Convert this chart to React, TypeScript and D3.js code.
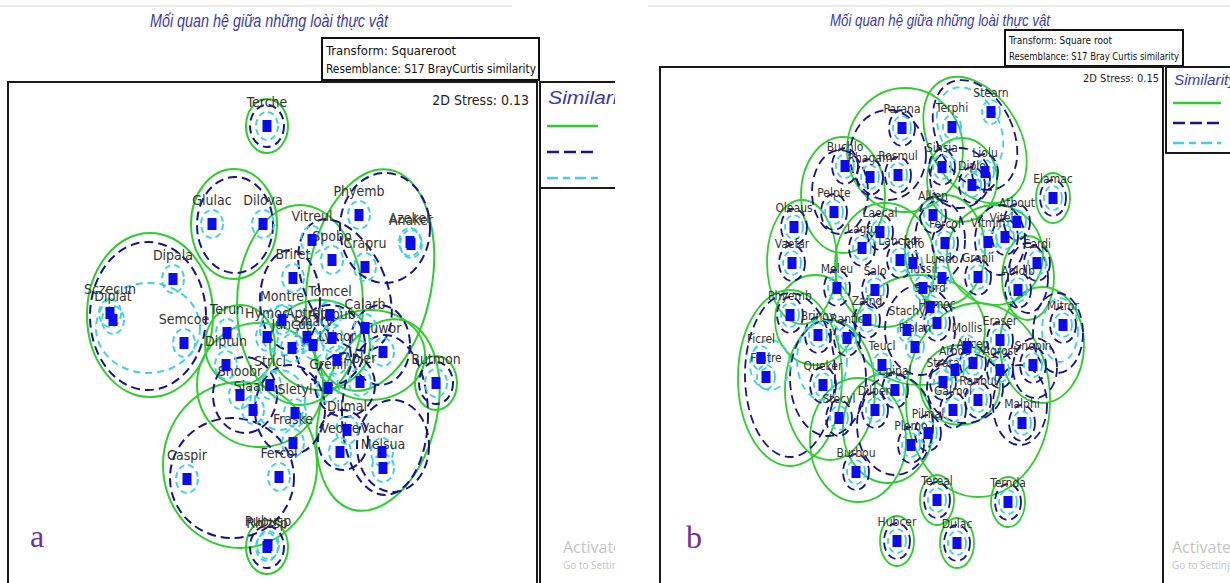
import React from "react";
import * as d3 from "d3";

const W = 1230;
const H = 583;

const TITLE = "Mối quan hệ giữa những loài thực vật";

const GREEN = "#30cd30";
const NAVY = "#15158c";
const CYAN = "#3fd2de";
const SQUARE = "#0b0bef";
const LABEL = "#333333";
const TITLE_C = "#3a3aae";
const NARROW = "'Liberation Sans Narrow','Arial Narrow','DejaVu Sans Condensed','Roboto Condensed',sans-serif";

type Pt = [string, number, number];
// [cx, cy, rx, ry, rotation in degrees] in ordination units
type El = [number, number, number, number, number?];

// ---------- panel a: nMDS coordinates (stress 0.13) ----------
const speciesA: Pt[] = [
  ["Terche", -0.06, 2.06],
  ["Glulac", -0.61, 1.08],
  ["Dilova", -0.10, 1.08],
  ["Dipala", -1.00, 0.53],
  ["Sczecun", -1.63, 0.19],
  ["Diplat", -1.60, 0.12],
  ["Semcoe", -0.89, -0.11],
  ["Vitreul", 0.39, 0.92],
  ["Phyemb", 0.86, 1.17],
  ["Azeker", 1.37, 0.90],
  ["Anaker", 1.38, 0.88],
  ["Briret", 0.20, 0.54],
  ["Spobo", 0.59, 0.72],
  ["Crapru", 0.92, 0.65],
  ["Tomcel", 0.57, 0.17],
  ["Calarb", 0.92, 0.04],
  ["Montre", 0.09, 0.12],
  ["Hymoc", -0.06, -0.05],
  ["Terun", -0.46, -0.01],
  ["Diptun", -0.47, -0.33],
  ["Allopub", 0.59, -0.06],
  ["Aptrep", 0.34, -0.05],
  ["Sinarv", 0.40, -0.13],
  ["Juncus", 0.19, -0.16],
  ["Lyinor", 0.64, -0.28],
  ["Tuwor", 1.10, -0.20],
  ["Apler", 0.87, -0.50],
  ["Grenii", 0.55, -0.56],
  ["Stricl", -0.03, -0.53],
  ["Shoobr", -0.33, -0.63],
  ["Siaalb", -0.20, -0.78],
  ["Sletyl", 0.22, -0.81],
  ["Fraske", 0.20, -1.11],
  ["Fercol", 0.06, -1.45],
  ["Dilmal", 0.74, -0.98],
  ["Veolre", 0.67, -1.20],
  ["Vachar", 1.09, -1.20],
  ["Melsua", 1.10, -1.36],
  ["Butmon", 1.63, -0.51],
  ["Caspir", -0.86, -1.47],
  ["Rhizsp", -0.06, -2.15],
  ["Rubusp", -0.05, -2.13],
];

const greenA: El[] = [
  [-0.39, 1.08, 0.43, 0.55],
  [-1.23, 0.17, 0.63, 0.82],
  [0.97, 0.52, 0.62, 1.12, 10],
  [0.27, 0.27, 0.63, 1.0],
  [-0.13, -0.53, 0.63, 0.62],
  [-0.33, -1.33, 0.77, 0.83],
  [1.05, -0.83, 0.58, 0.98, 15],
  [0.97, -0.23, 0.55, 0.45],
  [0.47, -0.13, 0.5, 0.45],
  [-0.33, -0.13, 0.35, 0.4],
];

const navyA: El[] = [
  [-0.38, 1.07, 0.38, 0.48],
  [-1.25, 0.16, 0.58, 0.74],
  [1.12, 1.04, 0.45, 0.55],
  [0.72, 0.47, 0.4, 0.7, -25],
  [0.17, 0.32, 0.3, 0.5],
  [0.57, -0.13, 0.35, 0.4],
  [1.07, -0.13, 0.3, 0.4],
  [-0.28, -0.63, 0.32, 0.38],
  [0.17, -0.78, 0.35, 0.45],
  [-0.41, -1.46, 0.62, 0.6],
  [1.2, -1.14, 0.36, 0.46],
  [0.7, -1.08, 0.25, 0.3],
  [1.12, -0.83, 0.43, 0.8],
  [0.72, -0.53, 0.3, 0.32],
];

const cyanA: El[] = [
  [-1.25, 0.04, 0.52, 0.45],
  [0.07, -0.68, 0.25, 0.3],
  [0.12, 0.02, 0.25, 0.25],
];

const soloNavyA = ["Terche", "Butmon", "Rhizsp"];
const soloGreenA = ["Terche", "Butmon", "Rhizsp"];

// ---------- panel b: nMDS coordinates (stress 0.15) ----------
const speciesB: Pt[] = [
  ["Parana", -0.09, 1.97],
  ["Stearn", 0.80, 2.13],
  ["Terphi", 0.41, 1.98],
  ["Buchlo", -0.66, 1.59],
  ["Rhagam", -0.41, 1.48],
  ["Rosmul", -0.13, 1.50],
  ["Sinsia", 0.31, 1.58],
  ["Liolu", 0.74, 1.53],
  ["Diplo", 0.61, 1.40],
  ["Pelpte", -0.77, 1.13],
  ["Oleaus", -1.17, 0.98],
  ["Elamac", 1.42, 1.27],
  ["Allien", 0.22, 1.10],
  ["Atbout", 1.06, 1.03],
  ["Vitelu", 0.94, 0.88],
  ["Vitmin", 0.77, 0.83],
  ["Fercol", 0.34, 0.82],
  ["Laecal", -0.31, 0.93],
  ["Lagfu", -0.49, 0.77],
  ["Lanchor", -0.11, 0.65],
  ["Trifo", 0.02, 0.62],
  ["Vaefar", -1.19, 0.62],
  ["Cardi", 1.26, 0.62],
  ["Grenii", 0.67, 0.48],
  ["Lundo", 0.31, 0.47],
  ["Ablolb", 1.07, 0.35],
  ["Meleu", -0.74, 0.37],
  ["Salo", -0.36, 0.35],
  ["Tussil", 0.12, 0.37],
  ["Shurd", 0.19, 0.18],
  ["Phyemb", -1.21, 0.10],
  ["Brinov", -0.93, -0.10],
  ["Ranfic", -0.64, -0.13],
  ["Zaind", -0.44, 0.05],
  ["Hymoc", 0.26, 0.02],
  ["Mitror", 1.52, 0.0],
  ["Mollis", 0.56, -0.22],
  ["Eraser", 0.89, -0.15],
  ["Snopin", 1.22, -0.40],
  ["Teucl", -0.29, -0.40],
  ["Stachy", -0.04, -0.05],
  ["Plalan", 0.04, -0.22],
  ["Arbdo", 0.44, -0.45],
  ["Strara", 0.32, -0.57],
  ["Allcep", 0.62, -0.38],
  ["Agrost", 0.89, -0.45],
  ["Ficrel", -1.50, -0.33],
  ["Fratre", -1.45, -0.52],
  ["Queker", -0.88, -0.60],
  ["Dilpen", -0.36, -0.85],
  ["Epipal", -0.16, -0.65],
  ["Stecyl", -0.72, -0.93],
  ["Pilmal", 0.17, -1.08],
  ["Plemo", 0.0, -1.20],
  ["Malphi", 1.11, -0.98],
  ["Galmol", 0.42, -0.85],
  ["Ranbul", 0.67, -0.75],
  ["Burbou", -0.55, -1.47],
  ["Tereal", 0.26, -1.75],
  ["Ternda", 0.97, -1.77],
  ["Hubcer", -0.14, -2.16],
  ["Dulac", 0.46, -2.18],
];

const greenB: El[] = [
  [-0.06, 1.75, 0.58, 0.62],
  [0.64, 1.85, 0.45, 0.68, -30],
  [-0.68, 1.3, 0.42, 0.58],
  [-1.09, 0.63, 0.35, 0.62],
  [-1.21, -0.53, 0.52, 0.88],
  [-0.81, -0.65, 0.45, 0.7],
  [-0.53, -1.15, 0.48, 0.62],
  [-0.23, -1.03, 0.45, 0.55],
  [1.31, -0.2, 0.42, 0.58],
  [0.67, -0.75, 0.72, 0.97],
  [0.84, 0.7, 0.48, 0.5],
  [1.17, 0.47, 0.26, 0.42],
  [-0.26, 0.6, 0.5, 0.62],
  [0.51, 1.45, 0.35, 0.42],
  [0.09, -0.05, 0.65, 0.55],
  [0.34, 0.75, 0.4, 0.55],
  [0.49, -0.6, 0.4, 0.4],
  [-0.96, 0.05, 0.4, 0.45],
];

const navyB: El[] = [
  [0.64, 1.9, 0.38, 0.58, -25],
  [-0.23, 1.7, 0.38, 0.45],
  [-0.71, 1.33, 0.28, 0.42],
  [-1.21, -0.5, 0.45, 0.82],
  [-0.83, -0.53, 0.38, 0.58],
  [1.47, -0.08, 0.25, 0.4],
  [1.24, -0.43, 0.22, 0.3],
  [1.09, -0.8, 0.27, 0.4],
  [-0.16, -1.0, 0.38, 0.5],
  [0.54, -0.63, 0.38, 0.35],
  [0.89, 0.85, 0.25, 0.35],
  [1.17, 0.47, 0.2, 0.35],
  [0.29, 0.85, 0.25, 0.4],
  [0.09, -0.05, 0.35, 0.45],
  [0.49, 1.47, 0.3, 0.3],
];

const cyanB: El[] = [
  [0.59, 1.95, 0.3, 0.45, -25],
  [-1.41, -0.4, 0.2, 0.25],
  [1.49, -0.05, 0.18, 0.32],
  [-0.89, -0.35, 0.25, 0.4],
];

const soloNavyB = [
  "Parana", "Buchlo", "Rhagam", "Rosmul", "Pelpte", "Oleaus", "Vaefar", "Elamac", "Laecal",
  "Lagfu", "Lanchor", "Meleu", "Salo", "Phyemb", "Brinov", "Ranfic", "Zaind", "Queker",
  "Stecyl", "Dilpen", "Epipal", "Pilmal", "Plemo", "Burbou", "Tereal", "Ternda", "Hubcer",
  "Dulac", "Sinsia", "Liolu", "Diplo", "Allien", "Atbout", "Vitelu", "Fercol", "Cardi",
  "Grenii", "Ablolb", "Hymoc", "Mitror", "Snopin", "Malphi", "Galmol", "Ranbul", "Eraser",
  "Agrost", "Strara", "Allcep",
];
const soloGreenB = ["Elamac", "Tereal", "Ternda", "Hubcer", "Dulac"];

type PanelSpec = {
  clip: [number, number];
  xDomain: [number, number];
  yDomain: [number, number];
  frame: { x0: number; x1: number; y0: number; y1: number };
  species: Pt[];
  green: El[];
  navy: El[];
  cyan: El[];
  soloNavy: string[];
  soloGreen: string[];
  ring: { c: [number, number]; b: [number, number]; g: [number, number] };
  labelSize: number;
  labelDy: number;
  sw: number;
};

const panelA: PanelSpec = {
  clip: [0, 615],
  xDomain: [-2.65, 2.64],
  yDomain: [2.5, -2.51],
  frame: { x0: 8, x1: 537, y0: 82, y1: 583 },
  species: speciesA,
  green: greenA,
  navy: navyA,
  cyan: cyanA,
  soloNavy: soloNavyA,
  soloGreen: soloGreenA,
  ring: { c: [11, 14], b: [17, 21], g: [21, 27] },
  labelSize: 14,
  labelDy: -19,
  sw: 2,
};

const panelB: PanelSpec = {
  clip: [640, 1230],
  xDomain: [-2.51, 2.52],
  yDomain: [2.58, -2.58],
  frame: { x0: 660, x1: 1163, y0: 67, y1: 583 },
  species: speciesB,
  green: greenB,
  navy: navyB,
  cyan: cyanB,
  soloNavy: soloNavyB,
  soloGreen: soloGreenB,
  ring: { c: [9, 12], b: [13, 18], g: [17, 25] },
  labelSize: 12,
  labelDy: -15,
  sw: 1.8,
};

function Ordination({ p, id }: { p: PanelSpec; id: string }) {
  const x = d3.scaleLinear().domain(p.xDomain).range([p.frame.x0, p.frame.x1]);
  const y = d3.scaleLinear().domain(p.yDomain).range([p.frame.y0, p.frame.y1]);
  const kx = Math.abs(x(1) - x(0));
  const ky = Math.abs(y(1) - y(0));
  const byName = new Map(p.species.map((s) => [s[0], s] as [string, Pt]));

  const ell = (e: El, color: string, dash: string | undefined, key: string) => {
    const cx = x(e[0]);
    const cy = y(e[1]);
    return (
      <ellipse
        key={key}
        cx={cx}
        cy={cy}
        rx={e[2] * kx}
        ry={e[3] * ky}
        transform={e[4] ? `rotate(${e[4]},${cx},${cy})` : undefined}
        fill="none"
        stroke={color}
        strokeWidth={p.sw}
        strokeDasharray={dash}
      />
    );
  };
  const ring = (name: string, r: [number, number], color: string, dash: string | undefined, key: string) => {
    const s = byName.get(name);
    if (!s) return null;
    return (
      <ellipse key={key} cx={x(s[1])} cy={y(s[2])} rx={r[0]} ry={r[1]} fill="none" stroke={color} strokeWidth={p.sw} strokeDasharray={dash} />
    );
  };

  return (
    <g clipPath={`url(#${id})`}>
      <rect x={p.frame.x0} y={p.frame.y0} width={p.frame.x1 - p.frame.x0} height={H - p.frame.y0 + 20} fill="none" stroke="#1a1a1a" strokeWidth={2} />
      <g>
        {p.green.map((e, i) => ell(e, GREEN, undefined, `g${i}`))}
        {p.soloGreen.map((n, i) => ring(n, p.ring.g, GREEN, undefined, `sg${i}`))}
        {p.navy.map((e, i) => ell(e, NAVY, "9,5", `b${i}`))}
        {p.soloNavy.map((n, i) => ring(n, p.ring.b, NAVY, "8,5", `sb${i}`))}
        {p.cyan.map((e, i) => ell(e, CYAN, "7,5", `c${i}`))}
        {p.species.map((s, i) => ring(s[0], p.ring.c, CYAN, "6,4", `sc${i}`))}
      </g>
      <g fontFamily={NARROW} fontSize={p.labelSize} fill={LABEL} textAnchor="middle">
        {p.species.map((s) => (
          <text key={s[0]} x={x(s[1])} y={y(s[2]) + p.labelDy}>
            {s[0]}
          </text>
        ))}
      </g>
      <g fill={SQUARE}>
        {p.species.map((s) => (
          <rect key={s[0]} x={x(s[1]) - 4.5} y={y(s[2]) - 6} width={9} height={12} />
        ))}
      </g>
    </g>
  );
}

function Legend({ x0, y0, w, h, titleSize, titleLen, rows, lineX, lineW }: { x0: number; y0: number; w: number; h: number; titleSize: number; titleLen: number; rows: number[]; lineX: number; lineW: number }) {
  return (
    <g>
      <rect x={x0} y={y0} width={w} height={h} fill="#fff" stroke="#1a1a1a" strokeWidth={2} />
      <text x={lineX + 1} y={y0 + titleSize + 3} fontFamily="'Liberation Sans',Arial,sans-serif" fontStyle="italic" fontSize={titleSize} fill={TITLE_C} textLength={titleLen} lengthAdjust="spacingAndGlyphs">
        Similarity
      </text>
      <line x1={lineX} x2={lineX + lineW} y1={rows[0]} y2={rows[0]} stroke={GREEN} strokeWidth={2.5} />
      <line x1={lineX} x2={lineX + lineW} y1={rows[1]} y2={rows[1]} stroke={NAVY} strokeWidth={2.5} strokeDasharray="12,5" />
      <line x1={lineX} x2={lineX + lineW} y1={rows[2]} y2={rows[2]} stroke={CYAN} strokeWidth={2.5} strokeDasharray="11,5,7,5" />
    </g>
  );
}

export default function App() {
  return (
    <svg width={W} height={H} viewBox={`0 0 ${W} ${H}`} style={{ position: "absolute", left: 0, top: 0, background: "#fff" }}>
      <defs>
        <clipPath id="clipA">
          <rect x={panelA.clip[0]} y={0} width={panelA.clip[1] - panelA.clip[0]} height={H} />
        </clipPath>
        <clipPath id="clipB">
          <rect x={panelB.clip[0]} y={0} width={panelB.clip[1] - panelB.clip[0]} height={H} />
        </clipPath>
      </defs>
      <rect width={W} height={H} fill="#fff" />

      {/* panel a */}
      <g clipPath="url(#clipA)">
        <line x1={0} x2={512} y1={6} y2={6} stroke="#d8d8d8" strokeWidth={1} />
        <text x={269} y={27} textAnchor="middle" fontFamily="'Liberation Sans',Arial,sans-serif" fontStyle="italic" fontSize={18} fill={TITLE_C} textLength={238} lengthAdjust="spacingAndGlyphs">
          {TITLE}
        </text>
        <rect x={322} y={38} width={217} height={42} fill="#fff" stroke="#111" strokeWidth={2} />
        <text x={326} y={55} fontFamily={NARROW} fontSize={13} fill="#111">Transform: Squareroot</text>
        <text x={326} y={73} fontFamily={NARROW} fontSize={13} fill="#111" textLength={210} lengthAdjust="spacingAndGlyphs">Resemblance: S17 BrayCurtis similarity</text>
        <Ordination p={panelA} id="clipA" />
        <text x={529} y={105} textAnchor="end" fontFamily={NARROW} fontSize={14} fill="#222">2D Stress: 0.13</text>
        <line x1={540} x2={540} y1={82} y2={H} stroke="#1a1a1a" strokeWidth={2} />
        <Legend x0={540} y0={82} w={120} h={106} titleSize={19} titleLen={86} rows={[126, 152, 178]} lineX={547} lineW={51} />
        <text x={563} y={553} fontFamily="'Open Sans','Noto Sans',sans-serif" fontSize={16} fill="#c4c4c4">Activate Windows</text>
        <text x={563} y={569} fontFamily="'Open Sans','Noto Sans',sans-serif" fontSize={10} fill="#c4c4c4">Go to Settings to activate Windows.</text>
        <text x={30} y={547} fontFamily="'Liberation Serif','DejaVu Serif',serif" fontSize={32} fill="#7030a0">a</text>
      </g>

      {/* panel b */}
      <g clipPath="url(#clipB)">
        <line x1={648} x2={1230} y1={6} y2={6} stroke="#d8d8d8" strokeWidth={1} />
        <text x={940} y={26} textAnchor="middle" fontFamily="'Liberation Sans',Arial,sans-serif" fontStyle="italic" fontSize={17} fill={TITLE_C} textLength={220} lengthAdjust="spacingAndGlyphs">
          {TITLE}
        </text>
        <rect x={1005} y={30} width={178} height={36} fill="#fff" stroke="#111" strokeWidth={2} />
        <text x={1009} y={44} fontFamily={NARROW} fontSize={10} fill="#111">Transform: Square root</text>
        <text x={1009} y={60} fontFamily={NARROW} fontSize={10} fill="#111" textLength={170} lengthAdjust="spacingAndGlyphs">Resemblance: S17 Bray Curtis similarity</text>
        <Ordination p={panelB} id="clipB" />
        <text x={1159} y={82} textAnchor="end" fontFamily={NARROW} fontSize={11} fill="#222">2D Stress: 0.15</text>
        <Legend x0={1166} y0={67} w={100} h={86} titleSize={15} titleLen={62} rows={[103, 123, 143]} lineX={1173} lineW={48} />
        <text x={1172} y={553} fontFamily="'Open Sans','Noto Sans',sans-serif" fontSize={16} fill="#c4c4c4">Activate Windows</text>
        <text x={1172} y={569} fontFamily="'Open Sans','Noto Sans',sans-serif" fontSize={10} fill="#c4c4c4">Go to Settings to activate Windows.</text>
        <text x={686} y={548} fontFamily="'Liberation Serif','DejaVu Serif',serif" fontSize={32} fill="#7030a0">b</text>
      </g>
    </svg>
  );
}
